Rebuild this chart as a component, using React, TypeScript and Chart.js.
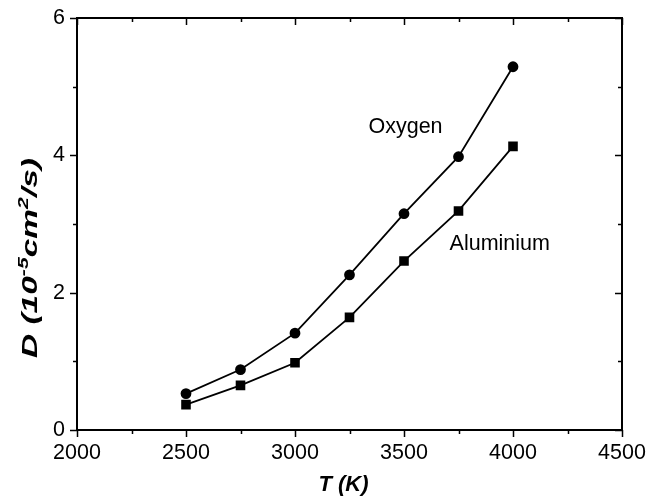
import React, { useEffect, useRef } from "react";
import { Chart, registerables } from "chart.js";

Chart.register(...registerables);

const temperatures = [2500, 2750, 3000, 3250, 3500, 3750, 4000];
const oxygen = [0.53, 0.88, 1.41, 2.26, 3.15, 3.98, 5.29];
const aluminium = [0.37, 0.65, 0.98, 1.64, 2.46, 3.19, 4.13];

const xMajorTicks = [2000, 2500, 3000, 3500, 4000, 4500];
const xMinorTicks = [2250, 2750, 3250, 3750, 4250];
const yMajorTicks = [0, 2, 4, 6];
const yMinorTicks = [1, 3, 5];

const seriesLabels = [
  { text: "Oxygen", x: 3337, y: 4.33 },
  { text: "Aluminium", x: 3709, y: 2.62 },
];

const FONT = '"Liberation Sans", Arial, Helvetica, sans-serif';

const framePlugin = {
  id: "frame",
  afterDatasetsDraw(chart: any) {
    const { ctx, chartArea, scales } = chart;
    const xs = scales.x;
    const ys = scales.y;
    const { left, right, top, bottom } = chartArea;
    ctx.save();
    ctx.strokeStyle = "#000";
    ctx.lineWidth = 2;
    ctx.strokeRect(left, top, right - left, bottom - top);

    ctx.lineWidth = 1.5;
    const major = 7;
    const minor = 4;
    ctx.beginPath();
    const xt = (v: number, len: number) => {
      const px = Math.round(xs.getPixelForValue(v)) + 0.5;
      ctx.moveTo(px, bottom);
      ctx.lineTo(px, bottom + len);
      ctx.moveTo(px, top);
      ctx.lineTo(px, top + len);
    };
    const yt = (v: number, len: number) => {
      const py = Math.round(ys.getPixelForValue(v)) + 0.5;
      ctx.moveTo(left, py);
      ctx.lineTo(left - len, py);
      ctx.moveTo(right, py);
      ctx.lineTo(right - len, py);
    };
    xMajorTicks.forEach((v) => xt(v, major));
    xMinorTicks.forEach((v) => xt(v, minor));
    yMajorTicks.forEach((v) => yt(v, major));
    yMinorTicks.forEach((v) => yt(v, minor));
    ctx.stroke();

    ctx.fillStyle = "#000";
    ctx.font = `21.5px ${FONT}`;
    ctx.textBaseline = "alphabetic";
    ctx.textAlign = "center";
    xMajorTicks.forEach((v) => {
      ctx.fillText(String(v), xs.getPixelForValue(v), bottom + 29);
    });
    ctx.textAlign = "right";
    yMajorTicks.forEach((v) => {
      ctx.fillText(String(v), left - 12, ys.getPixelForValue(v) + 6);
    });

    ctx.font = `21.5px ${FONT}`;
    ctx.textAlign = "left";
    seriesLabels.forEach((l) => {
      ctx.fillText(l.text, xs.getPixelForValue(l.x), ys.getPixelForValue(l.y));
    });

    // x title
    ctx.font = `italic bold 22px ${FONT}`;
    ctx.textAlign = "center";
    ctx.fillText("T (K)", (left + right) / 2 - 6, bottom + 61);

    // y title with superscripts
    const pieces = [
      { t: "D (10", sup: false },
      { t: "-5", sup: true },
      { t: "cm", sup: false },
      { t: "2", sup: true },
      { t: "/s)", sup: false },
    ];
    const mainFont = `italic bold 22px ${FONT}`;
    const supFont = `italic bold 14px ${FONT}`;
    let total = 0;
    const widths = pieces.map((p) => {
      ctx.font = p.sup ? supFont : mainFont;
      const w = ctx.measureText(p.t).width;
      total += w;
      return w;
    });
    const targetLen = 200;
    const stretch = targetLen / total;
    ctx.translate(37, 258);
    ctx.rotate(-Math.PI / 2);
    ctx.scale(stretch, 1);
    ctx.textAlign = "left";
    let cx = -total / 2;
    pieces.forEach((p, i) => {
      ctx.font = p.sup ? supFont : mainFont;
      ctx.fillText(p.t, cx, p.sup ? -9 : 0);
      cx += widths[i];
    });
    ctx.restore();
  },
};

export default function App() {
  const ref = useRef<HTMLCanvasElement | null>(null);
  useEffect(() => {
    if (!ref.current) return;
    const chart = new Chart(ref.current, {
      type: "line",
      data: {
        datasets: [
          {
            label: "Oxygen",
            data: temperatures.map((t, i) => ({ x: t, y: oxygen[i] })),
            borderColor: "#000",
            backgroundColor: "#000",
            borderWidth: 1.8,
            pointStyle: "circle",
            pointRadius: 4.5,
            tension: 0,
          },
          {
            label: "Aluminium",
            data: temperatures.map((t, i) => ({ x: t, y: aluminium[i] })),
            borderColor: "#000",
            backgroundColor: "#000",
            borderWidth: 1.8,
            pointStyle: "rect",
            pointRadius: 5.5,
            tension: 0,
          },
        ],
      },
      options: {
        animation: false,
        responsive: false,
        devicePixelRatio: 1,
        layout: { padding: { left: 77, right: 43, top: 18, bottom: 66 } },
        plugins: { legend: { display: false }, tooltip: { enabled: false } },
        scales: {
          x: { type: "linear", min: 2000, max: 4500, display: false },
          y: { type: "linear", min: 0, max: 6, display: false },
        },
      },
      plugins: [framePlugin],
    });
    return () => chart.destroy();
  }, []);
  return (
    <div style={{ position: "fixed", left: 0, top: 0, width: 665, height: 496, background: "#fff" }}>
      <canvas ref={ref} width={665} height={496} style={{ width: 665, height: 496 }} />
    </div>
  );
}
